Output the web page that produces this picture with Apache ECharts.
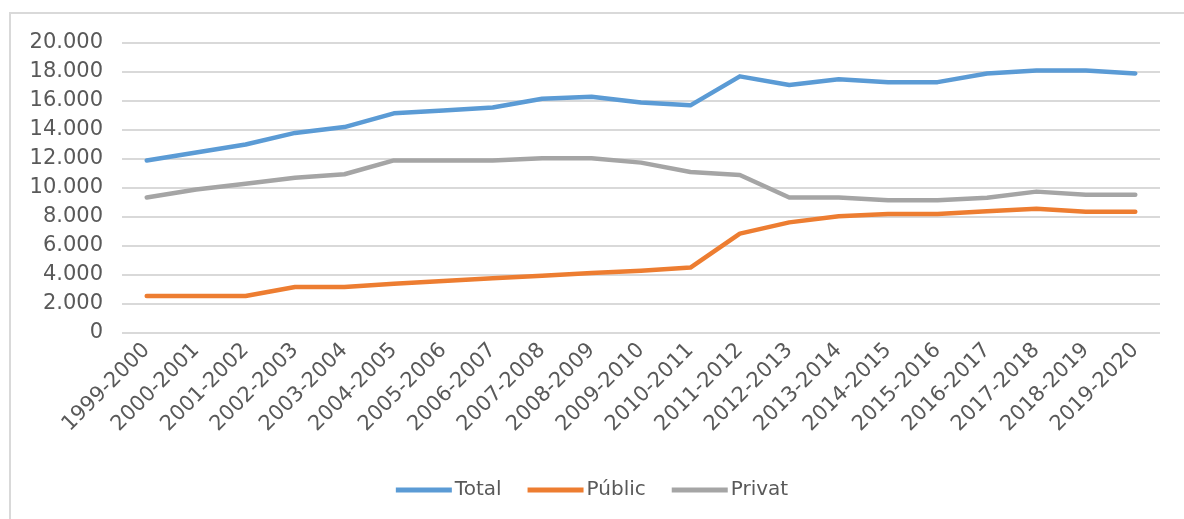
<!DOCTYPE html>
<html>
<head>
<meta charset="utf-8">
<script src="https://cdn.jsdelivr.net/npm/echarts@6/dist/echarts.min.js"></script>
<style>
  html, body { margin: 0; padding: 0; background: #fff; overflow: hidden; }
  #frame { position: absolute; left: 9px; top: 12px; width: 1400px; height: 700px; border: 2px solid #d9d9d9; box-sizing: border-box; }
  #chart { position: absolute; left: 0; top: 0; width: 1184px; height: 519px; }
</style>
</head>
<body>
<div id="frame"></div>
<div id="chart"></div>
<script>
const categories = ['1999-2000','2000-2001','2001-2002','2002-2003','2003-2004','2004-2005','2005-2006','2006-2007','2007-2008','2008-2009','2009-2010','2010-2011','2011-2012','2012-2013','2013-2014','2014-2015','2015-2016','2016-2017','2017-2018','2018-2019','2019-2020'];
const totalValues  = [11900, 12450, 13000, 13800, 14200, 15150, 15350, 15550, 16150, 16300, 15900, 15700, 17700, 17100, 17500, 17300, 17300, 17900, 18100, 18100, 17900];
const publicValues = [2550, 2550, 2550, 3170, 3170, 3400, 3590, 3770, 3950, 4140, 4300, 4510, 6850, 7630, 8050, 8210, 8210, 8390, 8570, 8370, 8370];
const privatValues = [9350, 9900, 10300, 10700, 10950, 11900, 11900, 11900, 12050, 12050, 11750, 11100, 10900, 9350, 9350, 9150, 9150, 9330, 9750, 9540, 9540];
const seriesNames = ['Total', 'Públic', 'Privat'];
const yTicks = { min: 0, max: 20000, interval: 2000 };

const FONT = 'DejaVu Sans';
const TXT = '#595959';
const chart = echarts.init(document.getElementById('chart'), null, { renderer: 'canvas' });
function fmt(v) { return String(v).replace(/\B(?=(\d{3})+(?!\d))/g, '.'); }
const colors = ['#5b9bd5', '#ed7d31', '#a5a5a5'];
const data = [totalValues, publicValues, privatValues];
chart.setOption({
  animation: false,
  color: colors,
  grid: { left: 122, right: 24, top: 43, bottom: 186 },
  legend: {
    bottom: 14,
    left: 'center',
    itemWidth: 56,
    itemHeight: 5,
    itemGap: 26,
    icon: 'rect',
    textStyle: { fontFamily: FONT, fontSize: 20, color: TXT, padding: [0, 0, 0, -2] },
    data: seriesNames
  },
  xAxis: {
    type: 'category',
    data: categories,
    boundaryGap: true,
    axisLine: { show: false },
    axisTick: { show: false },
    axisLabel: { rotate: 45, interval: 0, margin: 14, fontFamily: FONT, fontSize: 21, color: TXT }
  },
  yAxis: {
    type: 'value',
    min: yTicks.min, max: yTicks.max, interval: yTicks.interval,
    axisLine: { show: false },
    axisTick: { show: false },
    splitLine: { lineStyle: { color: '#d9d9d9', width: 2 } },
    axisLabel: { margin: 19, fontFamily: FONT, fontSize: 21, color: TXT, formatter: fmt }
  },
  series: seriesNames.map((n, i) => ({
    name: n,
    type: 'line',
    data: data[i],
    symbol: 'none',
    lineStyle: { width: 4.5, color: colors[i], join: 'round', cap: 'round' },
    itemStyle: { color: colors[i] }
  }))
});
</script>
</body>
</html>
